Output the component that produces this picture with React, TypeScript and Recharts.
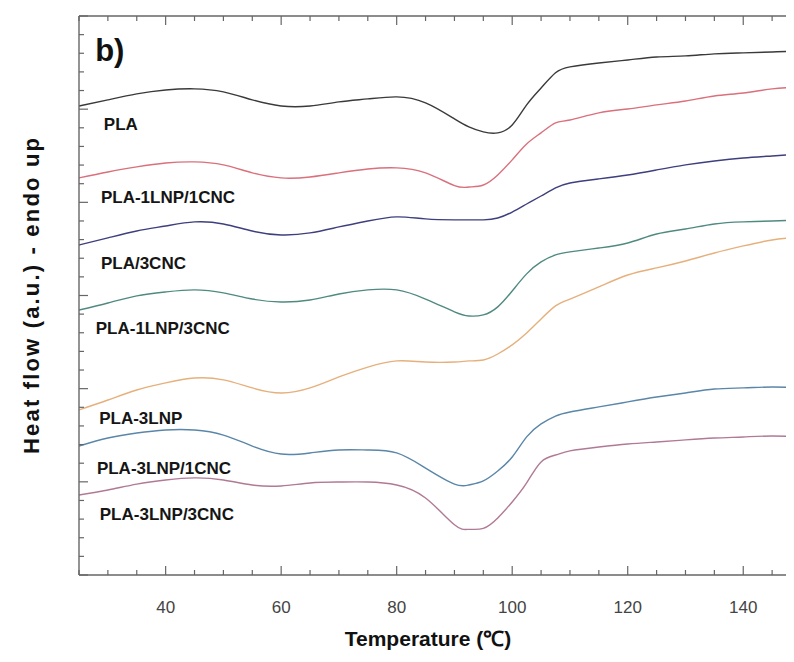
import React from 'react';
import { LineChart, Line, XAxis, YAxis, ReferenceDot } from 'recharts';

const FONT = '"Liberation Sans", Arial, Helvetica, sans-serif';

// Temperature (°C) sample points
const temperatures = [25, 30, 35, 40, 45, 50, 55, 60, 65, 70, 75, 80, 85, 90, 92.5, 95, 97.5, 100, 102.5, 105, 107.5, 110, 115, 120, 125, 130, 135, 140, 145, 150];

// Heat flow (a.u., stacked curves)
const pla = [25.17, 25.5, 25.82, 26.03, 26.09, 25.93, 25.5, 25.17, 25.17, 25.39, 25.55, 25.66, 25.34, 24.48, 24.05, 23.78, 23.73, 24.15, 25.23, 26.14, 26.95, 27.27, 27.48, 27.64, 27.8, 27.86, 27.97, 28.02, 28.07, 28.13];
const pla1Lnp1Cnc = [21.31, 21.63, 21.9, 22.11, 22.17, 22.01, 21.58, 21.31, 21.36, 21.58, 21.79, 21.85, 21.58, 20.9, 20.82, 20.93, 21.47, 22.28, 23.13, 23.73, 24.26, 24.42, 24.8, 25.01, 25.23, 25.44, 25.71, 25.87, 26.09, 26.19];
const pla3Cnc = [17.71, 18.09, 18.46, 18.73, 18.95, 18.84, 18.46, 18.25, 18.36, 18.68, 19.0, 19.22, 19.11, 19.06, 19.06, 19.06, 19.16, 19.48, 19.91, 20.34, 20.77, 21.04, 21.26, 21.47, 21.74, 22.01, 22.22, 22.38, 22.49, 22.6];
const pla1Lnp3Cnc = [14.22, 14.6, 14.98, 15.19, 15.3, 15.14, 14.81, 14.65, 14.76, 15.08, 15.3, 15.3, 14.81, 14.12, 13.9, 13.96, 14.39, 15.24, 16.16, 16.8, 17.18, 17.34, 17.55, 17.82, 18.3, 18.57, 18.84, 18.95, 19.0, 19.06];
const pla3Lnp = [8.86, 9.39, 9.93, 10.31, 10.57, 10.47, 10.04, 9.77, 10.04, 10.63, 11.16, 11.49, 11.43, 11.43, 11.49, 11.54, 11.86, 12.35, 12.99, 13.74, 14.44, 14.81, 15.46, 16.1, 16.48, 16.85, 17.28, 17.66, 17.98, 18.14];
const pla3Lnp1Cnc = [6.92, 7.35, 7.62, 7.78, 7.78, 7.51, 6.92, 6.49, 6.55, 6.71, 6.71, 6.55, 5.74, 4.88, 4.83, 5.05, 5.58, 6.33, 7.41, 8.11, 8.53, 8.75, 9.02, 9.29, 9.55, 9.77, 9.98, 10.04, 10.09, 10.04];
const pla3Lnp3Cnc = [4.29, 4.56, 4.88, 5.1, 5.21, 5.1, 4.83, 4.78, 4.94, 4.99, 4.99, 4.83, 4.13, 2.7, 2.45, 2.5, 3.06, 3.92, 4.94, 6.07, 6.44, 6.66, 6.87, 7.03, 7.14, 7.25, 7.35, 7.41, 7.46, 7.41];

const seriesKeys = ['pla', 'pla1Lnp1Cnc', 'pla3Cnc', 'pla1Lnp3Cnc', 'pla3Lnp', 'pla3Lnp1Cnc', 'pla3Lnp3Cnc'];
const seriesValues = [pla, pla1Lnp1Cnc, pla3Cnc, pla1Lnp3Cnc, pla3Lnp, pla3Lnp1Cnc, pla3Lnp3Cnc];
const seriesColors = ['#3a3a3a', '#d9707c', '#3d3f7e', '#4f8a80', '#e6b07c', '#5a86a8', '#b07a95'];

// Curve labels (text, temperature, heat flow) and panel tag
const curveLabels = ['PLA', 'PLA-1LNP/1CNC', 'PLA/3CNC', 'PLA-1LNP/3CNC', 'PLA-3LNP', 'PLA-3LNP/1CNC', 'PLA-3LNP/3CNC'];
const curveLabelT = [29.3, 28.8, 28.8, 27.9, 28.5, 28.1, 28.6];
const curveLabelY = [24.18, 20.31, 16.72, 13.28, 8.45, 5.77, 3.25];
const panelTag = { text: 'b)', t: 27.8, y: 28.18 };

// Axis ticks
const xTicks = [25, 30, 35, 40, 45, 50, 55, 60, 65, 70, 75, 80, 85, 90, 95, 100, 105, 110, 115, 120, 125, 130, 135, 140, 145, 150];
const xLabelTicks = [40, 60, 80, 100, 120, 140];
const yTicks = Array.from({ length: 31 }, (_, i) => i);

const data = temperatures.map((t, i) => {
  const row: Record<string, number> = { t };
  seriesKeys.forEach((k, j) => {
    row[k] = seriesValues[j][i];
  });
  return row;
});

const AXIS = '#666666';

const BottomTick = (props: any) => {
  const { x, y, payload } = props;
  const v = payload.value;
  const major = v % 20 === 0;
  return (
    <g>
      <line x1={x} x2={x} y1={y} y2={y - (major ? 9 : 5)} stroke={AXIS} strokeWidth={1.2} />
      {xLabelTicks.includes(v) && (
        <text x={x} y={y + 38} textAnchor="middle" fontSize={17} fill="#444" fontFamily={FONT}>
          {v}
        </text>
      )}
    </g>
  );
};

const TopTick = (props: any) => {
  const { x, y, payload } = props;
  const major = payload.value % 20 === 0;
  return <line x1={x} x2={x} y1={y} y2={y + (major ? 9 : 5)} stroke={AXIS} strokeWidth={1.2} />;
};

const LeftTick = (props: any) => {
  const { x, y, payload } = props;
  const major = payload.value % 5 === 0;
  return <line x1={x} x2={x + (major ? 9 : 5)} y1={y} y2={y} stroke={AXIS} strokeWidth={1.2} />;
};

const RightTick = (props: any) => {
  const { x, y, payload } = props;
  const major = payload.value % 5 === 0;
  return <line x1={x} x2={x - (major ? 12 : 5)} y1={y} y2={y} stroke={AXIS} strokeWidth={1.2} />;
};

const XTitle = () => (
  <text x={420} y={638} textAnchor="middle" fontSize={21} fontWeight={700} fill="#111" fontFamily={FONT}>
    Temperature (℃)
  </text>
);

const YTitle = () => (
  <text
    x={31}
    y={288}
    transform="rotate(-90, 31, 288)"
    textAnchor="middle"
    fontSize={22}
    fontWeight={700}
    fill="#111"
    fontFamily={FONT}
    textLength={316}
    lengthAdjust="spacing"
  >
    Heat flow (a.u.)  - endo up
  </text>
);

const axisLineStyle = { stroke: AXIS, strokeWidth: 1.4 };

export default function App() {
  return (
    <div style={{ width: 786, height: 654, overflow: 'hidden', background: '#fff' }}>
      <LineChart width={800} height={654} data={data} margin={{ top: 7, right: 6, bottom: 0, left: 0 }}>
        <XAxis
          dataKey="t"
          type="number"
          domain={[25, 150]}
          allowDataOverflow
          ticks={xTicks}
          interval={0}
          tickSize={0}
          tickMargin={0}
          tickLine={false}
          tick={<BottomTick />}
          axisLine={axisLineStyle}
          height={87}
          label={<XTitle />}
        />
        <XAxis
          xAxisId="top"
          orientation="top"
          dataKey="t"
          type="number"
          domain={[25, 150]}
          allowDataOverflow
          ticks={xTicks}
          interval={0}
          tickSize={0}
          tickMargin={0}
          tickLine={false}
          tick={<TopTick />}
          axisLine={axisLineStyle}
          height={1}
        />
        <YAxis
          type="number"
          domain={[0, 30]}
          allowDataOverflow
          ticks={yTicks}
          interval={0}
          tickSize={0}
          tickMargin={0}
          tickLine={false}
          tick={<LeftTick />}
          axisLine={axisLineStyle}
          width={71}
          label={<YTitle />}
        />
        <YAxis
          yAxisId="right"
          orientation="right"
          type="number"
          domain={[0, 30]}
          allowDataOverflow
          ticks={yTicks}
          interval={0}
          tickSize={0}
          tickMargin={0}
          tickLine={false}
          tick={<RightTick />}
          axisLine={axisLineStyle}
          width={1}
        />
        <Line
          xAxisId="top"
          yAxisId="right"
          dataKey="pla"
          stroke="#ffffff"
          strokeOpacity={0}
          dot={false}
          activeDot={false}
          legendType="none"
          isAnimationActive={false}
        />
        {seriesKeys.map((k, i) => (
          <Line
            key={k}
            type="natural"
            dataKey={k}
            stroke={seriesColors[i]}
            strokeWidth={1.4}
            dot={false}
            activeDot={false}
            isAnimationActive={false}
          />
        ))}
        {curveLabels.map((txt, i) => (
          <ReferenceDot
            key={txt}
            x={curveLabelT[i]}
            y={curveLabelY[i]}
            r={0}
            stroke="none"
            fill="none"
            label={{ value: txt, position: 'right', offset: 0, fill: '#151515', fontSize: 17, fontWeight: 700, fontFamily: FONT }}
          />
        ))}
        <ReferenceDot
          x={panelTag.t}
          y={panelTag.y}
          r={0}
          stroke="none"
          fill="none"
          label={{ value: panelTag.text, position: 'right', offset: 0, fill: '#111', fontSize: 31, fontWeight: 700, fontFamily: FONT }}
        />
      </LineChart>
    </div>
  );
}
